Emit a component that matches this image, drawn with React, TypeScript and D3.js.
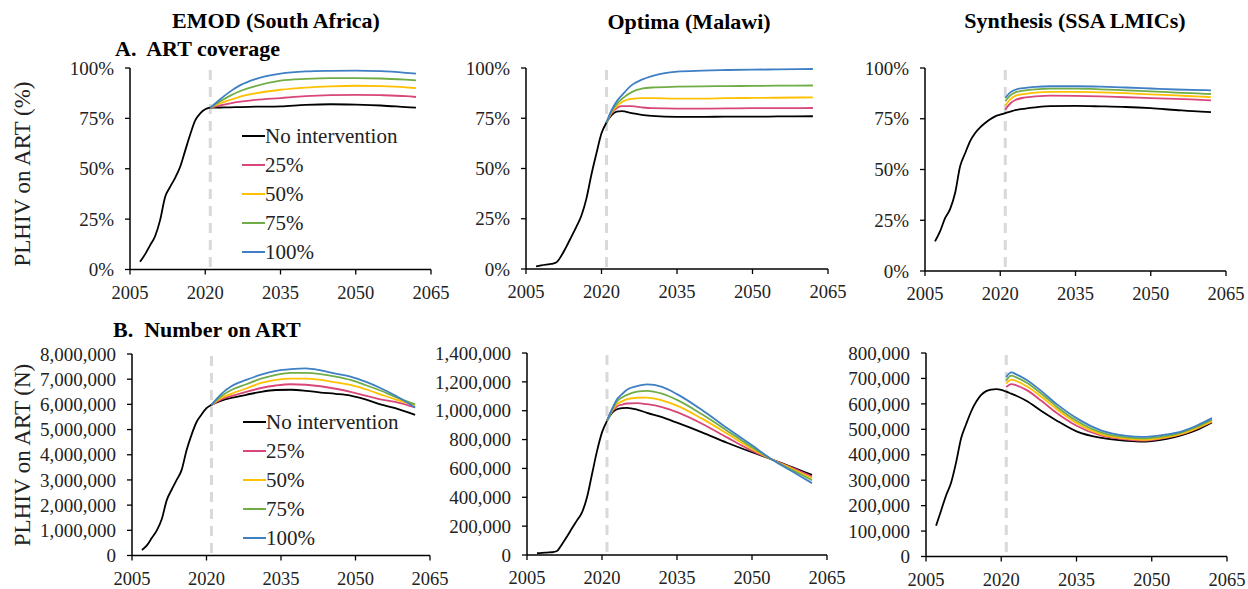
import React from "react";
import * as d3 from "d3";

// ---------- DATA ----------
const seriesNames = ["No intervention", "25%", "50%", "75%", "100%"];
const seriesColors = ["#000000", "#D9467A", "#FFC000", "#70AD47", "#3F7FC4"];
const xTicks = [2005, 2020, 2035, 2050, 2065];
const interventionYear = 2021;

// A. ART coverage (%)
const emodCovHistYears = [2007, 2008, 2009, 2010, 2011, 2012, 2013, 2014, 2015, 2016, 2017, 2018, 2019, 2020, 2021];
const emodCovHist = [3.8, 7.5, 12, 16.5, 24.5, 36, 41, 45.5, 51, 59, 67, 74, 77.5, 79.5, 80.3];
const emodCovProjYears = [2021, 2023, 2025, 2027, 2030, 2035, 2040, 2045, 2050, 2055, 2060, 2062];
const emodCovNone = [80.3, 80.4, 80.5, 80.6, 80.8, 81, 81.7, 82, 81.8, 81.4, 80.6, 80.3];
const emodCov25 = [80.3, 81.5, 82.5, 83.3, 84.2, 85.1, 86, 86.5, 86.7, 86.5, 86, 85.6];
const emodCov50 = [80.3, 82.5, 84.2, 85.8, 87.4, 89.2, 90.3, 90.9, 91.2, 91, 90.4, 90];
const emodCov75 = [80.3, 83.5, 86.3, 88.6, 91, 93.7, 94.6, 95, 95, 94.8, 94.2, 93.9];
const emodCov100 = [80.3, 84.5, 88.4, 91.5, 94.5, 97.2, 98.3, 98.6, 98.7, 98.4, 97.6, 97.2];

const optCovHistYears = [2007, 2008, 2009, 2010, 2011, 2012, 2013, 2014, 2015, 2016, 2017, 2018, 2019, 2020, 2021];
const optCovHist = [1.3, 1.8, 2.2, 2.5, 3.2, 6.5, 11, 16, 21, 26.5, 35, 47, 57.6, 67.5, 72.9];
const optCovProjYears = [2021, 2022, 2023, 2024, 2026, 2028, 2030, 2035, 2040, 2045, 2050, 2055, 2062];
const optCovNone = [72.9, 76.5, 78.3, 78.5, 77.6, 76.7, 76.2, 75.7, 75.7, 75.8, 75.8, 75.9, 76];
const optCov25 = [72.9, 77.5, 80, 81, 81, 80.4, 80, 79.8, 79.8, 79.9, 80, 80, 80.1];
const optCov50 = [72.9, 78, 81, 83, 84.6, 85, 85, 84.8, 84.8, 85, 85.1, 85.2, 85.4];
const optCov75 = [72.9, 78.5, 82, 84.5, 88, 89.7, 90.3, 90.7, 90.9, 91, 91.1, 91.2, 91.3];
const optCov100 = [72.9, 79, 83.3, 86.3, 91.5, 94.2, 96, 98.2, 98.7, 99, 99.2, 99.3, 99.5];

const synCovHistYears = [2007, 2008, 2009, 2010, 2011, 2012, 2013, 2014, 2015, 2016, 2017, 2018, 2019, 2020, 2021];
const synCovHist = [14.6, 19.5, 26, 30.5, 38.4, 51.6, 58, 64, 68, 70.8, 72.9, 74.8, 76.2, 77, 77.8];
const synCovProjYears = [2021, 2022, 2023, 2025, 2027, 2030, 2035, 2040, 2045, 2050, 2055, 2060, 2062];
const synCovNone = [77.8, 78.5, 79.2, 80, 80.6, 81.2, 81.3, 81.1, 80.8, 80.2, 79.3, 78.5, 78.3];
const synCov25 = [79.5, 82.5, 84.2, 85.5, 86, 86.4, 86.3, 86, 85.6, 85.2, 84.8, 84.3, 84.1];
const synCov50 = [81.4, 84.5, 86.3, 87.3, 87.9, 88.2, 88.2, 88, 87.6, 87, 86.5, 85.9, 85.7];
const synCov75 = [83.6, 86.5, 88, 89, 89.5, 89.8, 89.8, 89.5, 89, 88.5, 87.9, 87.4, 87.2];
const synCov100 = [85.2, 88, 89.3, 90.2, 90.7, 91, 91, 90.8, 90.4, 89.9, 89.4, 89.1, 89];

// B. Number on ART (thousands)
const emodNumHistYears = [2007, 2008, 2009, 2010, 2011, 2012, 2013, 2014, 2015, 2016, 2017, 2018, 2019, 2020, 2021];
const emodNumHist = [220, 400, 700, 1000, 1450, 2200, 2620, 3000, 3400, 4190, 4800, 5300, 5600, 5850, 5980];
const emodNumProjYears = [2021, 2023, 2025, 2028, 2031, 2034, 2037, 2040, 2043, 2046, 2049, 2052, 2055, 2058, 2062];
const emodNumNone = [5980, 6150, 6260, 6380, 6500, 6570, 6580, 6540, 6470, 6420, 6350, 6200, 6000, 5850, 5580];
const emodNum25 = [5980, 6200, 6330, 6500, 6650, 6750, 6800, 6780, 6720, 6620, 6500, 6350, 6200, 6100, 5880];
const emodNum50 = [5980, 6250, 6420, 6630, 6850, 6970, 7020, 7020, 6970, 6870, 6770, 6600, 6400, 6200, 5980];
const emodNum75 = [5980, 6330, 6570, 6800, 7020, 7170, 7250, 7250, 7200, 7100, 6970, 6770, 6550, 6300, 6000];
const emodNum100 = [5980, 6420, 6720, 6970, 7180, 7330, 7400, 7430, 7350, 7220, 7100, 6900, 6650, 6350, 5880];

const optNumHistYears = [2007, 2008, 2009, 2010, 2011, 2012, 2013, 2014, 2015, 2016, 2017, 2018, 2019, 2020, 2021];
const optNumHist = [12, 15, 17, 19, 28, 75, 128, 185, 240, 295, 400, 560, 720, 850, 930];
const optNumProjYears = [2021, 2022, 2023, 2024, 2025, 2027, 2029, 2032, 2035, 2040, 2045, 2050, 2054, 2058, 2062];
const optNumNone = [930, 985, 1010, 1018, 1020, 1008, 985, 955, 917, 850, 778, 712, 662, 610, 555];
const optNum25 = [930, 995, 1030, 1042, 1050, 1052, 1045, 1025, 990, 910, 815, 722, 662, 605, 545];
const optNum50 = [930, 1000, 1045, 1065, 1080, 1090, 1091, 1072, 1035, 945, 842, 735, 662, 598, 532];
const optNum75 = [930, 1005, 1065, 1092, 1110, 1132, 1138, 1118, 1075, 975, 862, 746, 662, 590, 518];
const optNum100 = [930, 1012, 1080, 1115, 1145, 1170, 1182, 1165, 1115, 1005, 880, 760, 662, 580, 498];

const synNumHistYears = [2007, 2008, 2009, 2010, 2011, 2012, 2013, 2014, 2015, 2016, 2017, 2018, 2019, 2020, 2021];
const synNumHist = [121, 180, 240, 290, 370, 465, 520, 570, 608, 635, 650, 656, 658, 655, 648];
const synNumProjYears = [2021, 2022, 2023, 2025, 2028, 2031, 2035, 2040, 2045, 2048, 2050, 2053, 2056, 2059, 2062];
const synNumNone = [648, 640, 632, 612, 572, 535, 492, 466, 455, 452, 454, 462, 477, 498, 527];
const synNum25 = [666, 678, 673, 655, 612, 565, 514, 475, 460, 456, 458, 467, 481, 503, 530];
const synNum50 = [679, 695, 690, 670, 628, 580, 525, 480, 463, 459, 461, 469, 483, 505, 531];
const synNum75 = [692, 711, 704, 684, 640, 590, 534, 487, 468, 464, 466, 474, 488, 510, 538];
const synNum100 = [706, 724, 716, 695, 650, 600, 544, 495, 474, 470, 472, 480, 492, 515, 544];

const covTicks = [0, 25, 50, 75, 100];
const emodNumTicks = [0, 1000, 2000, 3000, 4000, 5000, 6000, 7000, 8000];
const optNumTicks = [0, 200, 400, 600, 800, 1000, 1200, 1400];
const synNumTicks = [0, 100, 200, 300, 400, 500, 600, 700, 800];

// ---------- LAYOUT ----------
type PanelSpec = {
  box: { x0: number; x1: number; yTop: number; yBot: number };
  yMax: number;
  yTicks: number[];
  fmt: (v: number) => string;
  histYears: number[];
  hist: number[];
  projYears: number[];
  proj: number[][];
  legend?: { x: number; y: number; dy: number };
};

const pct = (v: number) => `${v}%`;
const num = (v: number) => d3.format(",")(v * 1000);

const panels: PanelSpec[] = [
  { box: { x0: 130, x1: 431, yTop: 68, yBot: 269.5 }, yMax: 100, yTicks: covTicks, fmt: pct,
    histYears: emodCovHistYears, hist: emodCovHist, projYears: emodCovProjYears,
    proj: [emodCovNone, emodCov25, emodCov50, emodCov75, emodCov100], legend: { x: 242, y: 136, dy: 29 } },
  { box: { x0: 526, x1: 828, yTop: 68, yBot: 269 }, yMax: 100, yTicks: covTicks, fmt: pct,
    histYears: optCovHistYears, hist: optCovHist, projYears: optCovProjYears,
    proj: [optCovNone, optCov25, optCov50, optCov75, optCov100] },
  { box: { x0: 925, x1: 1226, yTop: 68, yBot: 271 }, yMax: 100, yTicks: covTicks, fmt: pct,
    histYears: synCovHistYears, hist: synCovHist, projYears: synCovProjYears,
    proj: [synCovNone, synCov25, synCov50, synCov75, synCov100] },
  { box: { x0: 132, x1: 430, yTop: 354, yBot: 555.5 }, yMax: 8000, yTicks: emodNumTicks, fmt: num,
    histYears: emodNumHistYears, hist: emodNumHist, projYears: emodNumProjYears,
    proj: [emodNumNone, emodNum25, emodNum50, emodNum75, emodNum100], legend: { x: 243, y: 422, dy: 29 } },
  { box: { x0: 527, x1: 827, yTop: 353, yBot: 555 }, yMax: 1400, yTicks: optNumTicks, fmt: num,
    histYears: optNumHistYears, hist: optNumHist, projYears: optNumProjYears,
    proj: [optNumNone, optNum25, optNum50, optNum75, optNum100] },
  { box: { x0: 926, x1: 1227, yTop: 353, yBot: 556.5 }, yMax: 800, yTicks: synNumTicks, fmt: num,
    histYears: synNumHistYears, hist: synNumHist, projYears: synNumProjYears,
    proj: [synNumNone, synNum25, synNum50, synNum75, synNum100] },
];

const FONT = "'Liberation Serif', 'Times New Roman', serif";

function Panel({ p }: { p: PanelSpec }) {
  const { x0, x1, yTop, yBot } = p.box;
  const x = d3.scaleLinear().domain([2005, 2065]).range([x0, x1]);
  const y = d3.scaleLinear().domain([0, p.yMax]).range([yBot, yTop]);
  const line = d3
    .line<[number, number]>()
    .x((d) => x(d[0]))
    .y((d) => y(d[1]))
    .curve(d3.curveMonotoneX);

  const hist: [number, number][] = p.histYears.map((yr, i) => [yr, p.hist[i]]);
  const projLines = p.proj.map((vals) => p.projYears.map((yr, i) => [yr, vals[i]] as [number, number]));
  const blackPts: [number, number][] = [...hist, ...projLines[0].slice(1)];
  const blackJoined = hist[hist.length - 1][1] === projLines[0][0][1];

  return (
    <g>
      <line x1={x(interventionYear)} x2={x(interventionYear)} y1={yTop + 2} y2={yBot - 2}
        stroke="#D9D9D9" strokeWidth={3} strokeDasharray="10,7" />
      {blackJoined ? (
        <path d={line(blackPts) || ""} fill="none" stroke={seriesColors[0]} strokeWidth={1.8} />
      ) : (
        <>
          <path d={line(hist) || ""} fill="none" stroke={seriesColors[0]} strokeWidth={1.8} />
          <path d={line(projLines[0]) || ""} fill="none" stroke={seriesColors[0]} strokeWidth={1.8} />
        </>
      )}
      {[1, 2, 3, 4].map((k) => (
        <path key={k} d={line(projLines[k]) || ""} fill="none" stroke={seriesColors[k]} strokeWidth={1.8} />
      ))}
      <line x1={x0} x2={x0} y1={yTop} y2={yBot} stroke="#000" strokeWidth={1.5} />
      <line x1={x0} x2={x1} y1={yBot} y2={yBot} stroke="#000" strokeWidth={1.5} />
      {p.yTicks.map((t) => (
        <g key={t}>
          <line x1={x0 - 5} x2={x0} y1={y(t)} y2={y(t)} stroke="#000" strokeWidth={1.3} />
          <text x={x0 - 16} y={y(t)} dy="0.35em" textAnchor="end" fontFamily={FONT} fontSize={19} fill="#222">
            {p.fmt(t)}
          </text>
        </g>
      ))}
      {xTicks.map((t) => (
        <g key={t}>
          <line x1={x(t)} x2={x(t)} y1={yBot} y2={yBot + 5} stroke="#000" strokeWidth={1.3} />
          <text x={x(t)} y={yBot + 29} textAnchor="middle" fontFamily={FONT} fontSize={18.5} fill="#222">
            {t}
          </text>
        </g>
      ))}
      {p.legend &&
        seriesNames.map((name, i) => (
          <g key={name}>
            <line x1={p.legend!.x} x2={p.legend!.x + 23} y1={p.legend!.y + i * p.legend!.dy}
              y2={p.legend!.y + i * p.legend!.dy} stroke={seriesColors[i]} strokeWidth={2} />
            <text x={p.legend!.x + 23} y={p.legend!.y + i * p.legend!.dy} dy="0.35em" fontFamily={FONT}
              fontSize={21} fill="#222">
              {name}
            </text>
          </g>
        ))}
    </g>
  );
}

export default function App() {
  return (
    <svg width={1248} height={589} style={{ position: "absolute", left: 0, top: 0, background: "#fff" }}>
      <rect width={1248} height={589} fill="#fff" />
      <g fontFamily={FONT} fontWeight="bold" fontSize={22} fill="#000">
        <text x={276} y={28} textAnchor="middle">EMOD (South Africa)</text>
        <text x={689} y={29} textAnchor="middle">Optima (Malawi)</text>
        <text x={1075} y={28} textAnchor="middle">Synthesis (SSA LMICs)</text>
        <text x={115} y={56} xmlSpace="preserve">A.  ART coverage</text>
        <text x={113} y={337} xmlSpace="preserve">B.  Number on ART</text>
      </g>
      <text transform="translate(30,174) rotate(-90)" textAnchor="middle" fontFamily={FONT} fontSize={23} fill="#222">
        PLHIV on ART (%)
      </text>
      <text transform="translate(30,455) rotate(-90)" textAnchor="middle" fontFamily={FONT} fontSize={23} fill="#222">
        PLHIV on ART (N)
      </text>
      {panels.map((p, i) => (
        <Panel key={i} p={p} />
      ))}
    </svg>
  );
}
